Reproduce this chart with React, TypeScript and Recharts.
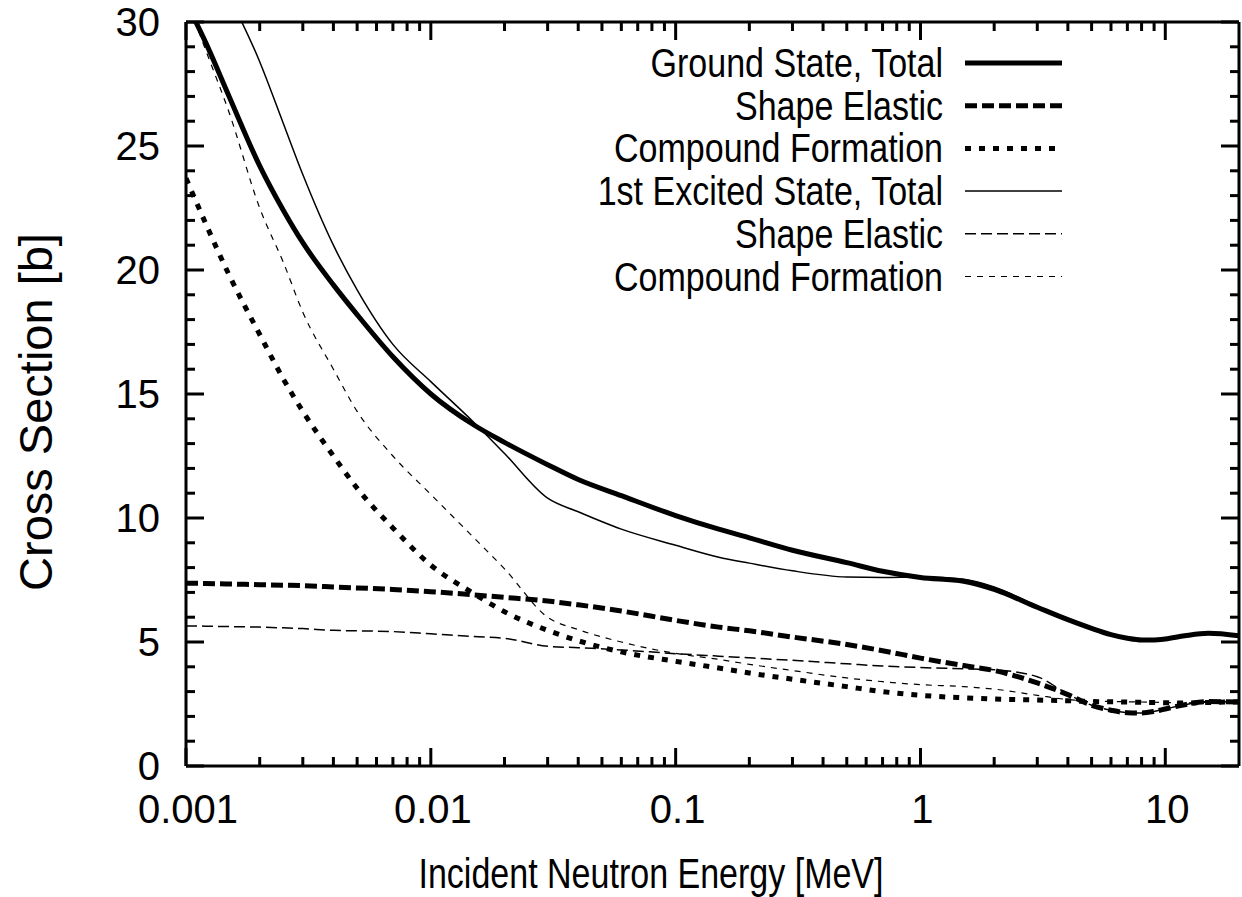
import { Legend, Line, LineChart, XAxis, YAxis } from 'recharts';

// Incident neutron energy grid [MeV], shared by every series.
const ENERGY = [
  0.001, 0.0012, 0.0015, 0.002, 0.0025, 0.003, 0.004, 0.005, 0.007, 0.01,
  0.015, 0.02, 0.03, 0.04, 0.06, 0.1, 0.15, 0.2, 0.3, 0.5,
  0.7, 1, 1.5, 2, 3, 4, 5, 6, 7, 8,
  9, 10, 12, 15, 20,
];

// Ground state [b]
const GROUND_TOTAL = [
  30.8, 29.2, 27.0, 24.2, 22.4, 21.1, 19.4, 18.2, 16.5, 15.0,
  13.75, 13.05, 12.15, 11.55, 10.9, 10.1, 9.55, 9.2, 8.7, 8.2,
  7.85, 7.6, 7.45, 7.12, 6.4, 5.9, 5.55, 5.3, 5.15, 5.08,
  5.08, 5.12, 5.25, 5.35, 5.25,
];
const GROUND_SHAPE = [
  7.37, 7.36, 7.34, 7.31, 7.29, 7.27, 7.22, 7.18, 7.12, 7.03,
  6.9, 6.8, 6.65, 6.5, 6.25, 5.87, 5.6, 5.45, 5.2, 4.9,
  4.65, 4.35, 4.05, 3.85, 3.35, 2.88, 2.45, 2.25, 2.15, 2.14,
  2.2, 2.3, 2.47, 2.6, 2.58,
];
const GROUND_COMPOUND = [
  23.7, 21.9, 19.8, 17.4, 15.6, 14.3, 12.5, 11.2, 9.6, 8.1,
  6.95, 6.22, 5.47, 5.05, 4.6, 4.22, 3.95, 3.75, 3.5, 3.2,
  3.0, 2.85, 2.75, 2.7, 2.66, 2.63, 2.6, 2.59, 2.58, 2.57,
  2.56, 2.55, 2.54, 2.56, 2.59,
];

// 1st excited state [b]
const EXCITED_TOTAL = [
  35.0, 33.3, 31.1, 28.4, 25.9, 23.85, 21.0, 19.2, 17.0, 15.5,
  13.85, 12.6, 10.8, 10.25, 9.55, 8.9, 8.42, 8.18, 7.87, 7.62,
  7.6, 7.62, 7.53, 7.22, 6.45, 5.9, 5.55, 5.3, 5.15, 5.08,
  5.08, 5.12, 5.25, 5.35, 5.25,
];
const EXCITED_SHAPE = [
  5.65, 5.64, 5.62, 5.6, 5.57, 5.54, 5.47, 5.45, 5.42, 5.33,
  5.22, 5.15, 4.83, 4.77, 4.68, 4.53, 4.43, 4.36, 4.26, 4.12,
  4.03, 3.97, 3.92, 3.88, 3.6, 2.9, 2.45, 2.25, 2.15, 2.14,
  2.2, 2.3, 2.47, 2.6, 2.58,
];
const EXCITED_COMPOUND = [
  31.0, 28.9, 26.35, 22.5, 20.3, 18.3, 16.0, 14.3, 12.5, 10.95,
  9.2, 7.95, 6.0, 5.5, 5.0, 4.54, 4.3, 4.1, 3.85, 3.55,
  3.4, 3.28, 3.2, 3.1, 2.85, 2.68, 2.62, 2.6, 2.59, 2.58,
  2.57, 2.56, 2.55, 2.57, 2.6,
];

// Log axis ticks: decades get a label, the rest are minor marks.
const X_MAJOR = [0.001, 0.01, 0.1, 1, 10];
const X_MINOR = [
  0.002, 0.003, 0.004, 0.005, 0.006, 0.007, 0.008, 0.009,
  0.02, 0.03, 0.04, 0.05, 0.06, 0.07, 0.08, 0.09,
  0.2, 0.3, 0.4, 0.5, 0.6, 0.7, 0.8, 0.9,
  2, 3, 4, 5, 6, 7, 8, 9,
];
const Y_TICKS = [
  0, 1, 2, 3, 4, 5, 6, 7, 8, 9, 10, 11, 12, 13, 14, 15,
  16, 17, 18, 19, 20, 21, 22, 23, 24, 25, 26, 27, 28, 29, 30,
];

// Legend order is the plotting order (gnuplot style key).
const SERIES = [
  { key: 'gt', name: 'Ground State, Total', values: GROUND_TOTAL, width: 5, dash: undefined },
  { key: 'gs', name: 'Shape Elastic', values: GROUND_SHAPE, width: 5, dash: '12 5' },
  { key: 'gc', name: 'Compound Formation', values: GROUND_COMPOUND, width: 5, dash: '6 8' },
  { key: 'et', name: '1st Excited State, Total', values: EXCITED_TOTAL, width: 1.5, dash: undefined },
  { key: 'es', name: 'Shape Elastic', values: EXCITED_SHAPE, width: 1.5, dash: '11 5' },
  { key: 'ec', name: 'Compound Formation', values: EXCITED_COMPOUND, width: 1.2, dash: '6 6' },
];

const rows = ENERGY.map((e, i) => {
  const row: Record<string, number> = { e };
  for (const s of SERIES) row[s.key] = s.values[i];
  return row;
});

const FONT = "'Liberation Sans', Arial, Helvetica, sans-serif";
const MAJOR_LEN = 18;
const MINOR_LEN = 9;

const isMajorX = (v: number) => X_MAJOR.includes(v);

function BottomTick({ x, y, payload }: any) {
  const major = isMajorX(payload.value);
  return (
    <g>
      <line x1={x} x2={x} y1={y} y2={y - (major ? MAJOR_LEN : MINOR_LEN)} stroke="#000" strokeWidth={3} />
      {major && (
        <text x={x + 2} y={y + 57} textAnchor="middle" fontFamily={FONT} fontSize={40} fill="#000">
          {String(payload.value)}
        </text>
      )}
    </g>
  );
}

function TopTick({ x, y, payload }: any) {
  const major = isMajorX(payload.value);
  return <line x1={x} x2={x} y1={y} y2={y + (major ? MAJOR_LEN : MINOR_LEN)} stroke="#000" strokeWidth={3} />;
}

function LeftTick({ x, y, payload }: any) {
  const major = payload.value % 5 === 0;
  return (
    <g>
      <line x1={x} x2={x + (major ? MAJOR_LEN : MINOR_LEN)} y1={y} y2={y} stroke="#000" strokeWidth={3} />
      {major && (
        <text x={x - 26} y={y + 14} textAnchor="end" fontFamily={FONT} fontSize={40} fill="#000">
          {payload.value}
        </text>
      )}
    </g>
  );
}

function RightTick({ x, y, payload }: any) {
  const major = payload.value % 5 === 0;
  return <line x1={x} x2={x - (major ? MAJOR_LEN : MINOR_LEN)} y1={y} y2={y} stroke="#000" strokeWidth={3} />;
}

function XTitle() {
  return (
    <text
      transform="translate(651, 888) scale(0.81, 1)"
      textAnchor="middle"
      fontFamily={FONT}
      fontSize={42}
      fill="#000"
    >
      Incident Neutron Energy [MeV]
    </text>
  );
}

function YTitle() {
  return (
    <text
      transform="translate(52, 412) rotate(-90)"
      textAnchor="middle"
      fontFamily={FONT}
      fontSize={47}
      fill="#000"
    >
      Cross Section [b]
    </text>
  );
}

function KeyBox() {
  return (
    <svg width={1242} height={300} style={{ display: 'block' }}>
      {SERIES.map((s, i) => {
        const cy = 63 + i * 42.7;
        return (
          <g key={s.key}>
            <text
              transform={`translate(943, ${cy + 14}) scale(0.83, 1)`}
              textAnchor="end"
              fontFamily={FONT}
              fontSize={41}
              fill="#000"
            >
              {s.name}
            </text>
            <line x1={965} x2={1062} y1={cy} y2={cy} stroke="#000" strokeWidth={s.width} strokeDasharray={s.dash} />
          </g>
        );
      })}
    </svg>
  );
}

export default function App() {
  return (
    <div style={{ position: 'absolute', left: 0, top: 0, width: 1242, height: 897, background: '#fff' }}>
      <LineChart width={1242} height={897} data={rows} margin={{ top: 12, right: 0, bottom: 31, left: 86 }}>
        <XAxis
          dataKey="e"
          type="number"
          scale="log"
          domain={[0.001, 20]}
          allowDataOverflow
          ticks={[...X_MAJOR, ...X_MINOR]}
          interval={0}
          height={100}
          tickSize={0}
          tickMargin={0}
          tickLine={false}
          axisLine={{ stroke: '#000', strokeWidth: 3 }}
          tick={<BottomTick />}
          label={<XTitle />}
        />
        <XAxis
          xAxisId="top"
          orientation="top"
          dataKey="e"
          type="number"
          scale="log"
          domain={[0.001, 20]}
          allowDataOverflow
          ticks={[...X_MAJOR, ...X_MINOR]}
          interval={0}
          height={10}
          tickSize={0}
          tickMargin={0}
          tickLine={false}
          axisLine={{ stroke: '#000', strokeWidth: 3 }}
          tick={<TopTick />}
        />
        <YAxis
          type="number"
          domain={[0, 30]}
          allowDataOverflow
          ticks={Y_TICKS}
          interval={0}
          width={100}
          tickSize={0}
          tickMargin={0}
          tickLine={false}
          axisLine={{ stroke: '#000', strokeWidth: 3 }}
          tick={<LeftTick />}
          label={<YTitle />}
        />
        <YAxis
          yAxisId="right"
          orientation="right"
          type="number"
          domain={[0, 30]}
          allowDataOverflow
          ticks={Y_TICKS}
          interval={0}
          width={3}
          tickSize={0}
          tickMargin={0}
          tickLine={false}
          axisLine={{ stroke: '#000', strokeWidth: 3 }}
          tick={<RightTick />}
        />
        <Legend
          layout="horizontal"
          verticalAlign="middle"
          align="center"
          content={<KeyBox />}
          wrapperStyle={{ position: 'absolute', left: 0, top: 0, width: 1242, height: 300, pointerEvents: 'none' }}
        />
        {SERIES.map((s) => (
          <Line
            key={s.key}
            dataKey={s.key}
            name={s.name}
            type="monotone"
            stroke="#000"
            strokeWidth={s.width}
            strokeDasharray={s.dash}
            dot={false}
            activeDot={false}
            isAnimationActive={false}
          />
        ))}
      </LineChart>
    </div>
  );
}
